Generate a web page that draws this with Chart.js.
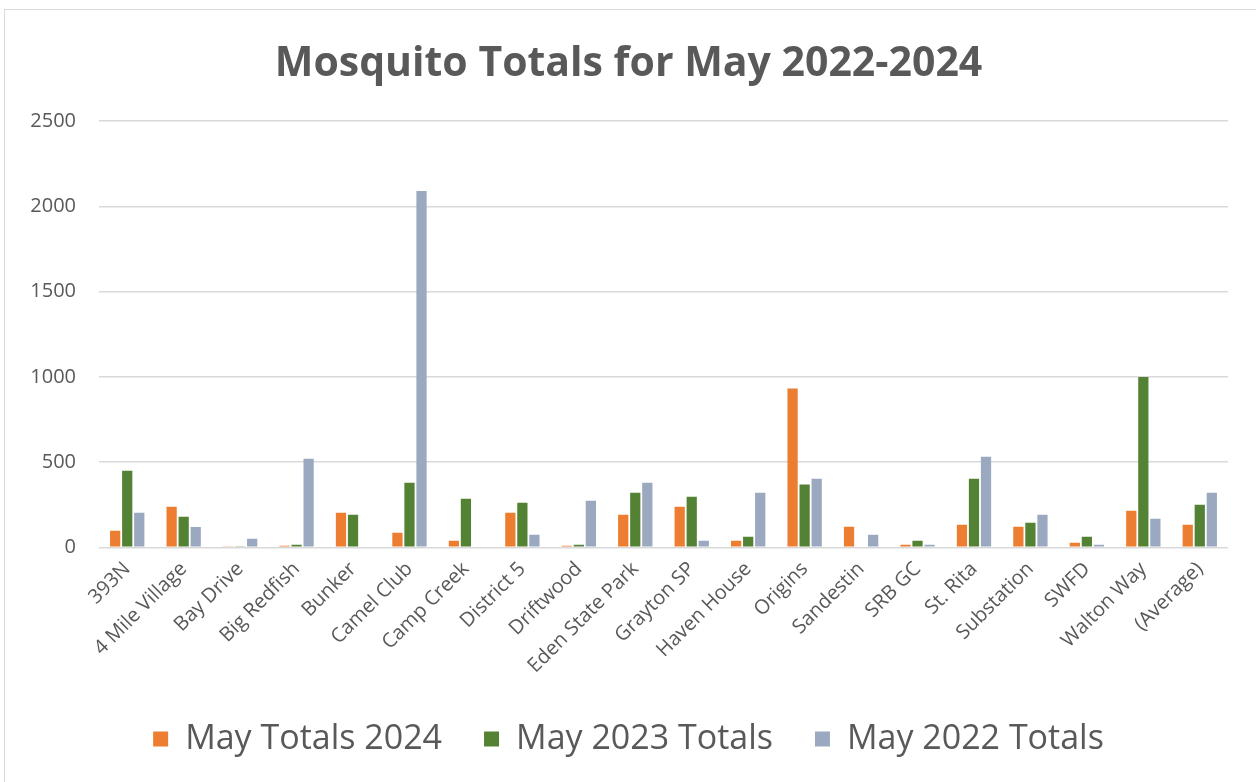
<!DOCTYPE html>
<html>
<head>
<meta charset="utf-8">
<script src="https://cdn.jsdelivr.net/npm/chart.js@4"></script>
<style>
  body { margin: 0; background: #fff; }
  #box { position: absolute; left: 4px; top: 9px; width: 1262px; height: 780px; border: 1px solid #d9d9d9; box-sizing: border-box; }
  #wrap { position: absolute; left: 0; top: 0; width: 1256px; height: 782px; }
</style>
</head>
<body>
<div id="box"></div>
<div id="wrap"><canvas id="myChart"></canvas></div>
<script>
const sites = ['393N', '4 Mile Village', 'Bay Drive', 'Big Redfish', 'Bunker', 'Camel Club', 'Camp Creek',
  'District 5', 'Driftwood', 'Eden State Park', 'Grayton SP', 'Haven House', 'Origins', 'Sandestin',
  'SRB GC', 'St. Rita', 'Substation', 'SWFD', 'Walton Way', '(Average)'];
const may2024 = [98, 238, 3, 10, 203, 85, 38, 203, 10, 191, 238, 38, 932, 121, 15, 132, 121, 27, 215, 132];
const may2023 = [450, 179, 3, 15, 191, 379, 285, 262, 15, 321, 297, 62, 368, 0, 38, 403, 144, 62, 1000, 250];
const may2022 = [203, 120, 50, 520, 0, 2091, 0, 74, 274, 379, 38, 321, 403, 74, 15, 532, 191, 15, 168, 321];
const yTicks = [0, 500, 1000, 1500, 2000, 2500];

window.onload = function() {
  const data = {
    labels: sites,
    datasets: [
      { label: 'May Totals 2024', data: may2024, backgroundColor: '#ed7d31' },
      { label: 'May 2023 Totals', data: may2023, backgroundColor: '#548235' },
      { label: 'May 2022 Totals', data: may2022, backgroundColor: '#9aa9bf' }
    ]
  };

  const config = {
    type: 'bar',
    data: data,
    options: {
      responsive: false,
      animation: false,
      categoryPercentage: 0.64,
      barPercentage: 0.85,
      // left pad pushes title/legend right a bit; y axis width fixed below so plot still starts near x=99
      layout: { padding: { left: 29, right: 28, top: 30, bottom: 16 } },
      plugins: {
        title: {
          display: true,
          text: 'Mosquito Totals for May 2022-2024',
          color: '#595959',
          font: { family: 'Open Sans', size: 41, weight: 'bold' },
          padding: { top: 10, bottom: 32 }
        },
        legend: {
          position: 'bottom',
          labels: {
            color: '#595959',
            font: { family: 'Open Sans', size: 34 },
            boxWidth: 15,
            boxHeight: 15,
            padding: 42
          }
        },
        tooltip: { enabled: false }
      },
      scales: {
        x: {
          grid: { display: false },
          border: { display: false },
          ticks: {
            color: '#595959',
            font: { family: 'Open Sans', size: 20 },
            padding: 2,
            maxRotation: 45,
            minRotation: 45,
            autoSkip: false
          }
        },
        y: {
          min: 0,
          max: 2500,
          afterBuildTicks: function(axis) {
            axis.ticks = yTicks.map(v => ({ value: v }));
          },
          afterFit: function(axis) {
            axis.width = 70;
          },
          grid: { color: '#d9d9d9', lineWidth: 1.5, drawTicks: false },
          border: { display: false },
          ticks: {
            color: '#595959',
            font: { family: 'Open Sans', size: 20 },
            padding: 23,
            callback: v => String(v)
          }
        }
      }
    }
  };

  const canvas = document.getElementById('myChart');
  canvas.width = 1256;
  canvas.height = 782;
  const ctx = canvas.getContext('2d');
  const myChart = new Chart(ctx, config);
};
</script>
</body>
</html>
